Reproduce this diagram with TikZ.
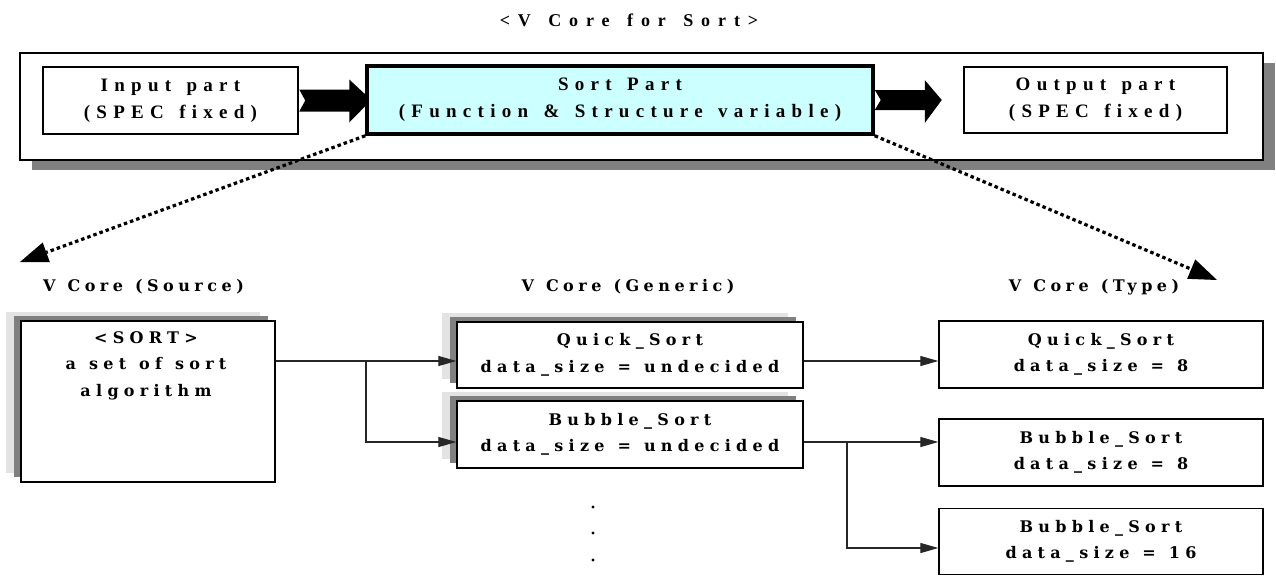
\documentclass[tikz,border=0pt]{standalone}
\usepackage{fontspec}
\newfontfamily\topfont{Liberation Serif}[LetterSpace=33,WordSpace=1.4]
\newfontfamily\titfont{Liberation Serif}[LetterSpace=44,WordSpace=1.4]
\newfontfamily\botfont{DejaVu Serif}[LetterSpace=33,WordSpace=1.2]
\newfontfamily\labfont{DejaVu Serif}[LetterSpace=28,WordSpace=1.2]
\usetikzlibrary{arrows.meta,shadows,calc,backgrounds}
\definecolor{sortfill}{HTML}{CCFFFF}
\definecolor{shdark}{HTML}{808080}
\definecolor{shlight}{HTML}{E3E3E3}
\tikzset{
  tfont/.style={font=\fontsize{19}{27}\selectfont\topfont\bfseries},
  bfont/.style={font=\fontsize{16}{26.5}\selectfont\botfont\bfseries},
  titlestyle/.style={font=\fontsize{18}{20}\selectfont\titfont\bfseries, inner sep=0pt},
  topbox/.style={draw, line width=2.5pt, fill=white, inner sep=0pt, align=center, tfont},
  sortbox/.style={topbox, line width=3.5pt, fill=sortfill},
  outerbox/.style={draw, line width=2.5pt, fill=white, inner sep=0pt,
     general shadow={fill=shdark, shadow xshift=12pt, shadow yshift=-10pt}},
  genbox/.style={draw, line width=1.3pt, fill=white, inner sep=0pt, align=center, bfont,
     general shadow={fill=shlight, shadow xshift=-15pt, shadow yshift=9pt},
     general shadow={fill=shdark, shadow xshift=-7pt, shadow yshift=5pt}},
  typebox/.style={draw, line width=1.3pt, fill=white, inner sep=0pt, align=center, bfont},
  labelstyle/.style={font=\fontsize{16}{18}\selectfont\labfont\bfseries, inner sep=0pt},
  conn/.style={draw=black!85, line width=1.1pt, -{Triangle[length=18pt,width=10pt]}},
  dotarrow/.style={line width=3.2pt, dash pattern=on 3.5pt off 3pt,
     -{Triangle[length=28pt,width=21pt,line width=0pt]}},
  blockarrow/.style={fill=black},
}
\begin{document}
\begin{tikzpicture}[x=1pt,y=-1pt]
\useasboundingbox (0,0) rectangle (1276,576);

% title
\node[titlestyle] (title) at (629,20) {<V Core for Sort>};

% top boxes
\node[topbox, minimum width=255pt, minimum height=67pt] (inp) at (170.5,100.5)
  {Input part\\(SPEC fixed)};
\node[sortbox, minimum width=506pt, minimum height=68pt] (sort) at (620,100)
  {Sort Part\\(Function \& Structure variable)};
\node[topbox, minimum width=263pt, minimum height=66pt] (out) at (1095.5,100)
  {Output part\\(SPEC fixed)};

\begin{scope}[on background layer]
  \node[outerbox, minimum width=1243pt, minimum height=107pt] (outer) at (641.5,106.5) {};
  % block arrows
  \fill[blockarrow] ($(inp.east)+(0,-11)$) -- ($(inp.east)+(50,-11)$) -- ($(inp.east)+(50,-21)$)
     -- ($(sort.west)+(6,0)$) -- ($(inp.east)+(50,22)$) -- ($(inp.east)+(50,11)$)
     -- ($(inp.east)+(0,11)$) -- ($(inp.east)+(6,0)$) -- cycle;
  \fill[blockarrow] ($(sort.east)+(0,-10)$) -- ($(sort.east)+(50,-10)$) -- ($(sort.east)+(50,-20)$)
     -- ($(sort.east)+(67,0)$) -- ($(sort.east)+(50,23)$) -- ($(sort.east)+(50,10)$)
     -- ($(sort.east)+(0,10)$) -- ($(sort.east)+(6,0)$) -- cycle;
\end{scope}

% dotted arrows
\coordinate (tipL) at (20,262);
\coordinate (tipR) at (1217,280);
\draw[dotarrow] (sort.south west) -- (tipL);
\draw[dotarrow] (sort.south east) -- (tipR);

% column labels
\node[labelstyle] (lsrc) at (143.5,287) {V Core (Source)};
\node[labelstyle] (lgen) at (628,287) {V Core (Generic)};
\node[labelstyle] (ltyp) at (1094,287) {V Core (Type)};

% source box
\node[genbox, minimum width=254pt, minimum height=161pt] (src) at (148,401.5) {};
\node[bfont, inner sep=0pt, align=center, anchor=north] (srctxt) at (146,331)
  {<SORT>\\a set of sort\\algorithm};

% generic boxes
\node[genbox, minimum width=346pt, minimum height=66pt] (gq) at (630,355)
  {Quick\_Sort\\data\_size = undecided};
\node[genbox, minimum width=346pt, minimum height=67pt] (gb) at (630,434.5)
  {Bubble\_Sort\\data\_size = undecided};

% type boxes
\node[typebox, minimum width=324pt, minimum height=67pt] (tq) at (1101,354.5)
  {Quick\_Sort\\data\_size = 8};
\node[typebox, minimum width=324pt, minimum height=67pt] (tb8) at (1101,452.5)
  {Bubble\_Sort\\data\_size = 8};
\node[typebox, minimum width=324pt, minimum height=66pt] (tb16) at (1101,541.5)
  {Bubble\_Sort\\data\_size = 16};

% connectors
\coordinate (jA) at (366,361);
\coordinate (jB) at (847,442);
\draw[conn] (src.east |- jA) -- (gq.west |- jA);
\draw[conn] (jA) |- (gb.west |- 0,442);
\draw[conn] (gq.east |- jA) -- (tq.west |- jA);
\draw[conn] (gb.east |- jB) -- (tb8.west |- jB);
\draw[conn] (jB) |- (tb16.west |- 0,548);

% vertical ellipsis
\fill (593,507) circle (1.7pt);
\fill (593,533) circle (1.7pt);
\fill (593,560) circle (1.7pt);
\end{tikzpicture}
\end{document}
